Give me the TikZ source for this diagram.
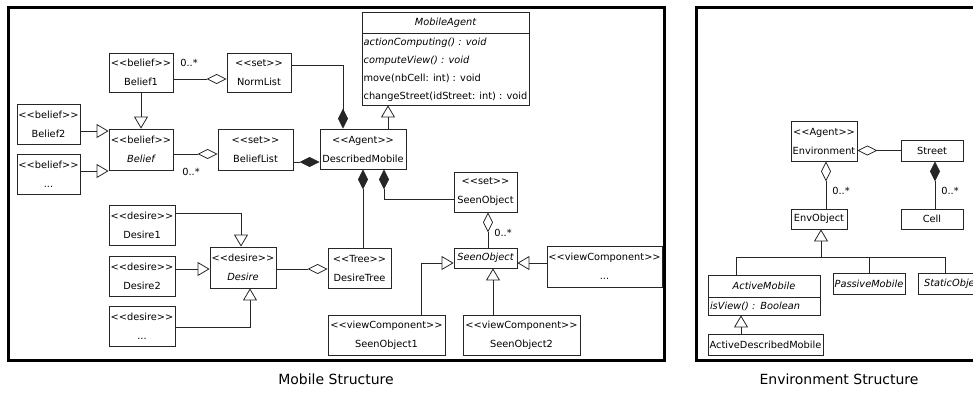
\documentclass[tikz,border=0pt]{standalone}
\usepackage{fontspec}
\setmainfont{DejaVu Sans}
\usetikzlibrary{arrows.meta,positioning}
\newcommand{\umlfont}{\fontsize{9.8}{19}\selectfont}
\newcommand{\stereo}[1]{<\kern0pt<#1>\kern0pt>}
\begin{document}
\begin{tikzpicture}[x=1pt,y=-1pt,
	cls/.style={draw=black!85, fill=white, line width=0.8pt, inner sep=1pt, align=center, font=\umlfont},
	frame/.style={line width=3pt},
	conn/.style={draw=black!85, line width=0.8pt},
	gen/.style={conn, -{Triangle[open,length=12,width=14]}},
	agg/.style={conn, -{Diamond[open,length=20,width=10]}},
	comp/.style={conn, -{Diamond[length=20,width=10]}},
	mult/.style={font=\umlfont, inner sep=0pt}]
	\useasboundingbox (0,0) rectangle (973,392);
	\clip (0,0) rectangle (973,392);
	\draw[frame] (8,7) rectangle (664,360);
	\draw[frame] (696,7) rectangle (1000,360);
	\node[font=\fontsize{14}{16}\selectfont] (capmobile) at (336,379) {Mobile Structure};
	\node[font=\fontsize{14}{16}\selectfont] (capenv) at (839,379) {Environment Structure};
	
	\node[cls, minimum width=64, minimum height=39] (beliefone) at (141,72.5) {\stereo{belief}\\Belief1};
	\node[cls, minimum width=64, minimum height=39] (normlist) at (259,72.5) {\stereo{set}\\NormList};
	\node[cls, minimum width=63, minimum height=40] (belieftwo) at (48.5,124) {\stereo{belief}\\Belief2};
	\node[cls, minimum width=63, minimum height=40] (beliefetc) at (48.5,174) {\stereo{belief}\\...};
	\node[cls, minimum width=64, minimum height=41] (belief) at (141,149.5) {\stereo{belief}\\\itshape Belief};
	\node[cls, minimum width=75, minimum height=41] (belieflist) at (255.5,149.5) {\stereo{set}\\BeliefList};
	\node[cls, minimum width=86, minimum height=40] (mobile) at (363,149) {\stereo{Agent}\\DescribedMobile};
	\node[cls, minimum width=167, minimum height=21] (agenthead) at (445.5,22.5) {\itshape MobileAgent};
	\node[cls, minimum width=167, minimum height=72, inner ysep=0pt, anchor=north, font=\fontsize{9.8}{18}\selectfont] (agentops) at ([yshift=0.8]agenthead.south) {\begin{tabular}{@{}l@{}}\itshape actionComputing() : void\\\itshape computeView() : void\\move(nbCell: int) : void\\changeStreet(idStreet: int) : void\end{tabular}};
	\node[cls, minimum width=66, minimum height=40] (desireone) at (142,225) {\stereo{desire}\\Desire1};
	\node[cls, minimum width=66, minimum height=40] (desiretwo) at (142,276) {\stereo{desire}\\Desire2};
	\node[cls, minimum width=66, minimum height=40] (desireetc) at (142,326) {\stereo{desire}\\...};
	\node[cls, minimum width=66, minimum height=41] (desire) at (243,267.5) {\stereo{desire}\\\itshape Desire};
	\node[cls, minimum width=63, minimum height=40] (desiretree) at (359.5,268) {\stereo{Tree}\\DesireTree};
	\node[cls, minimum width=63, minimum height=40] (seenset) at (485.5,192) {\stereo{set}\\SeenObject};
	\node[cls, minimum width=63, minimum height=20] (seen) at (485.5,258) {\itshape SeenObject};
	\node[cls, minimum width=115, minimum height=41] (viewetc) at (604.5,266.5) {\stereo{viewComponent}\\...};
	\node[cls, minimum width=117, minimum height=40] (seenone) at (386.5,335) {\stereo{viewComponent}\\SeenObject1};
	\node[cls, minimum width=117, minimum height=40] (seentwo) at (521.5,335) {\stereo{viewComponent}\\SeenObject2};
	
	\draw[agg] ([yshift=-6.5]beliefone.east) -- ([yshift=-6.5]normlist.west);
	\draw[comp] ([yshift=7.5]normlist.east) -| ([xshift=-20]mobile.north);
	\draw[gen] (beliefone.south) -- (belief.north);
	\draw[gen] ([yshift=-7]belieftwo.east) -- ([yshift=-7]belieftwo.east -| belief.west);
	\draw[gen] ([yshift=3]beliefetc.east) -- ([yshift=3]beliefetc.east -| belief.west);
	\draw[agg] ([yshift=-4.5]belief.east) -- ([yshift=-4.5]belieflist.west);
	\draw[comp] ([yshift=-12.5]belieflist.east) -- ([yshift=-12.5]belieflist.east -| mobile.west);
	\draw[gen] ([xshift=25]mobile.north) -- ([xshift=25]mobile.north |- agentops.south);
	\draw[comp] (desiretree.north -| mobile.south) -- (mobile.south);
	\draw[comp] ([yshift=-7]seenset.west) -| ([xshift=21]mobile.south);
	\draw[agg] ([yshift=-1.5]desire.east) -- ([yshift=-1.5]desire.east -| desiretree.west);
	\draw[gen] ([yshift=12]desireone.east) -| ([xshift=-2]desire.north);
	\draw[gen] ([yshift=7]desiretwo.east) -- ([yshift=7]desiretwo.east -| desire.west);
	\draw[gen] ([yshift=-1]desireetc.east) -| ([xshift=7]desire.south);
	\draw[agg] ([xshift=2.5]seen.north) -- ([xshift=2.5]seenset.south);
	\draw[gen] ([xshift=34.5]seenone.north) |- ([yshift=-5]seen.west);
	\draw[gen] ([xshift=-28.5]seentwo.north) -- ([xshift=-28.5]seentwo.north |- seen.south);
	\draw[gen] ([yshift=3.5]viewetc.west) -- ([yshift=3.5]viewetc.west -| seen.east);
	\node[mult] (mbelief) at (189,63) {0..*};
	\node[mult] (mlist) at (191,172) {0..*};
	\node[mult] (mseen) at (503,233) {0..*};
	
	\node[cls, minimum width=66, minimum height=40] (env) at (824,141) {\stereo{Agent}\\Environment};
	\node[cls, minimum width=62, minimum height=21] (street) at (932,150.5) {Street};
	\node[cls, minimum width=56, minimum height=20] (envobj) at (819,219) {EnvObject};
	\node[cls, minimum width=62, minimum height=20] (cell) at (932,219) {Cell};
	\node[cls, minimum width=112, minimum height=22] (amhead) at (764,286) {\itshape ActiveMobile};
	\node[cls, minimum width=112, minimum height=18, inner ysep=0pt, anchor=north, align=left, text width=108] (amops) at ([yshift=0.8]amhead.south) {\itshape isView() : Boolean};
	\node[cls, minimum width=115, minimum height=21] (activedesc) at (765.5,344.5) {ActiveDescribedMobile};
	\node[cls, minimum width=72, minimum height=21] (passive) at (869,283.5) {\itshape PassiveMobile};
	\node[cls, minimum width=72, minimum height=21] (static) at (954,283.5) {\itshape StaticObject};
	\coordinate (fork) at (821,257);
	
	\draw[agg] (street.west) -- (street.west -| env.east);
	\draw[agg] ([xshift=7]envobj.north) -- ([xshift=7]envobj.north |- env.south);
	\draw[comp] ([xshift=3]cell.north) -- ([xshift=3]street.south);
	\draw[gen] (fork) -- (fork |- envobj.south);
	\draw[conn] ([xshift=-28]amhead.north) |- (fork);
	\draw[conn] (fork) -| (passive.north);
	\draw[conn] (fork) -| ([xshift=-9]static.north);
	\draw[gen] ([xshift=-24.5]activedesc.north) -- ([xshift=-24.5]activedesc.north |- amops.south);
	\node[mult] (menv) at (841,191) {0..*};
	\node[mult] (mcell) at (950,191) {0..*};
\end{tikzpicture}
\end{document}
